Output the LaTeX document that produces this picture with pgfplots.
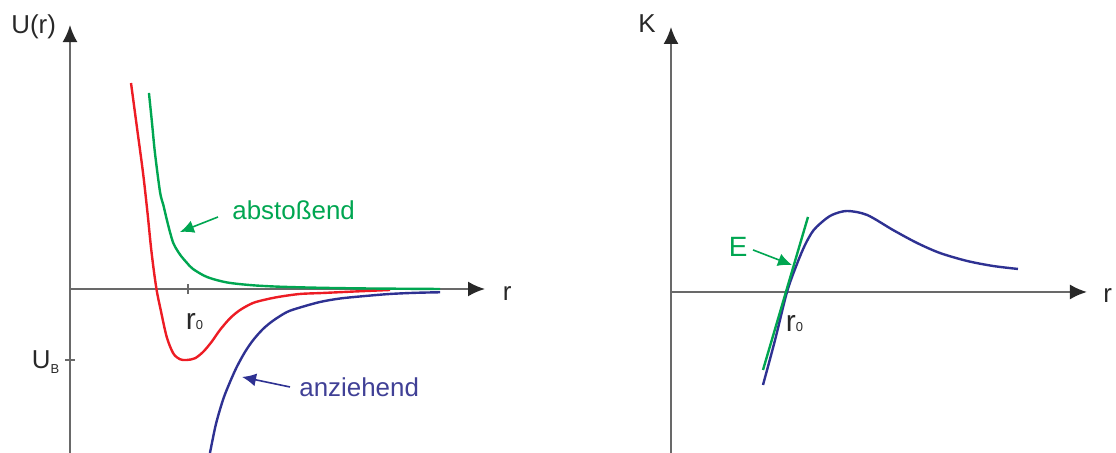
\documentclass[border=0pt]{standalone}
\usepackage{fontspec}
\setmainfont{Liberation Sans}
\usepackage{pgfplots}
\pgfplotsset{compat=1.18}
\usetikzlibrary{arrows.meta}

\definecolor{curvered}{RGB}{237,28,36}
\definecolor{curvegreen}{RGB}{0,166,81}
\definecolor{curveblue}{RGB}{46,49,146}
\definecolor{textblue}{RGB}{64,64,150}
\definecolor{axisgray}{RGB}{105,105,105}
\definecolor{labelgray}{RGB}{40,40,40}

\newcommand{\lbl}{\fontsize{13}{15}\selectfont}
\newcommand{\sub}[1]{{\fontsize{6.5}{8}\selectfont #1}}

\tikzset{note/.style={-{Latex[length=7bp,width=6.5bp]}, line width=0.8bp}}

\pgfplotsset{
  sketch/.style={
    axis lines*=middle,
    axis line style={line width=1bp, draw=axisgray,
      -{Latex[length=8.5bp,width=7.5bp,color=labelgray]}},
    clip=false,
    major tick length=5bp,
    tick style={line width=1bp, draw=axisgray},
    tick align=center,
    xticklabels={}, yticklabels={},
  },
  curve/.style={line width=1.2bp, smooth, no markers},
}

\begin{document}
\begin{tikzpicture}
\useasboundingbox (0,0) rectangle (558bp,-226.5bp);

% potential energy U(r), r in units of r0, U in units of |U_B|
\begin{axis}[sketch, at={(35bp,-226.5bp)}, anchor=south west,
  x=59bp, y=35.5bp, xmin=0, xmax=3.517, ymin=-2.31, ymax=3.718,
  xtick={1}, ytick={-1}]
  % total potential
  \addplot[curve, curvered] coordinates {
    (0.517,2.901) (0.568,2.268) (0.619,1.634) (0.657,1.070) (0.686,0.592)
    (0.712,0.239) (0.737,-0.042) (0.767,-0.282) (0.819,-0.672) (0.875,-0.906)
    (0.932,-0.990) (0.989,-1.0) (1.059,-0.976) (1.130,-0.883) (1.201,-0.742)
    (1.271,-0.577) (1.356,-0.413) (1.441,-0.296) (1.551,-0.197) (1.667,-0.145)
    (1.780,-0.108) (1.949,-0.070) (2.144,-0.056) (2.415,-0.035) (2.712,-0.014)};
  % repulsive part
  \addplot[curve, curvegreen] coordinates {
    (0.669,2.761) (0.695,2.338) (0.720,1.915) (0.763,1.366) (0.791,1.183)
    (0.819,0.986) (0.847,0.803) (0.875,0.648) (0.907,0.549) (0.941,0.465)
    (0.992,0.366) (1.042,0.282) (1.161,0.169) (1.331,0.092) (1.551,0.052)
    (1.780,0.032) (2.119,0.017) (2.542,0.007) (3.136,0.0)};
  % attractive part
  \addplot[curve, curveblue] coordinates {
    (1.186,-2.310) (1.237,-1.901) (1.299,-1.549) (1.356,-1.310) (1.413,-1.099)
    (1.483,-0.887) (1.553,-0.718) (1.636,-0.563) (1.723,-0.444) (1.839,-0.324)
    (1.949,-0.261) (2.119,-0.183) (2.288,-0.134) (2.500,-0.099) (2.712,-0.070)
    (2.924,-0.054) (3.136,-0.046)};

  \draw[note, curvegreen] (axis cs:1.254,1.014) -- (axis cs:0.932,0.803);
  \draw[note, curveblue] (axis cs:1.864,-1.380) -- (axis cs:1.458,-1.239);
  \node[anchor=base west, inner sep=0, text=curvegreen, font=\lbl]
    at (axis cs:1.373,0.972) {abstoßend};
  \node[anchor=base west, inner sep=0, text=textblue, font=\lbl]
    at (axis cs:1.941,-1.517) {anziehend};
  \node[anchor=base west, inner sep=0, text=labelgray, font=\fontsize{15}{17}\selectfont]
    at (axis cs:0.979,-0.577) {r\sub{0}};
  \node[anchor=base west, inner sep=0, text=labelgray, font=\lbl]
    at (axis cs:-0.326,-1.113) {U\raisebox{-2.5bp}{\sub{B}}};
\end{axis}

% force K(r)
\begin{axis}[sketch, at={(335.5bp,-226.5bp)}, anchor=south west,
  x=58bp, y=40.5bp, xmin=0, xmax=3.586, ymin=-1.988, ymax=3.272,
  xtick=\empty, ytick=\empty]
  \addplot[curve, curveblue] coordinates {
    (0.793,-1.148) (0.897,-0.593) (1.0,0.0) (1.086,0.346) (1.155,0.580)
    (1.224,0.753) (1.302,0.864) (1.388,0.951) (1.517,1.0) (1.690,0.951)
    (1.914,0.765) (2.121,0.605) (2.319,0.481) (2.552,0.383) (2.776,0.321)
    (2.991,0.284)};
  % tangent at r0
  \addplot[curvegreen, line width=1.2bp, sharp plot, no markers]
    coordinates {(0.793,-0.963) (1.181,0.926)};

  \draw[note, curvegreen] (axis cs:0.707,0.519) -- (axis cs:1.043,0.333);
  \node[anchor=base west, inner sep=0, text=curvegreen, font=\fontsize{14}{16}\selectfont]
    at (axis cs:0.496,0.432) {E};
  \node[anchor=base west, inner sep=0, text=labelgray, font=\fontsize{15}{17}\selectfont]
    at (axis cs:0.987,-0.494) {r\sub{0}};
\end{axis}

% axis names
\node[anchor=base west, inner sep=0, text=labelgray, font=\lbl] at (5.5bp,-16.7bp) {U(r)};
\node[anchor=base west, inner sep=0, text=labelgray, font=\lbl] at (319bp,-16bp) {K};
\node[anchor=base west, inner sep=0, text=labelgray, font=\lbl] at (251.25bp,-150bp) {r};
\node[anchor=base west, inner sep=0, text=labelgray, font=\lbl] at (551.5bp,-151bp) {r};
\end{tikzpicture}
\end{document}
